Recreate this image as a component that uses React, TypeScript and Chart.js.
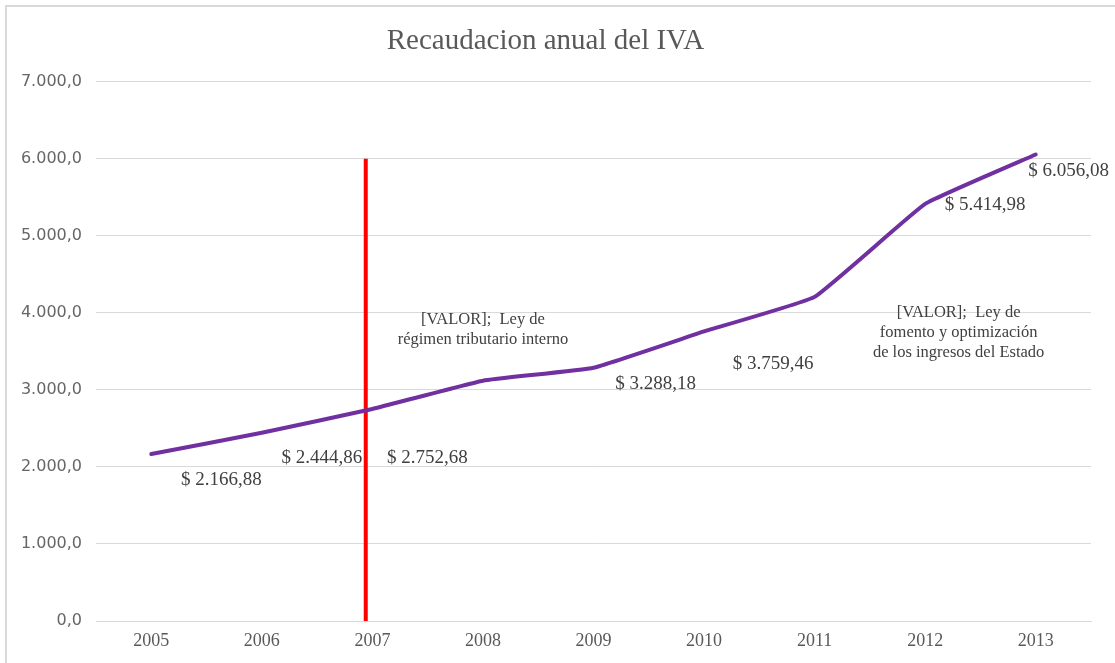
import React, { useEffect, useRef } from "react";
import { Chart, registerables } from "chart.js";

Chart.register(...registerables);

const years = ["2005", "2006", "2007", "2008", "2009", "2010", "2011", "2012", "2013"];
const ivaValues = [2166.88, 2444.86, 2752.68, 3120, 3288.18, 3759.46, 4208, 5414.98, 6056.08];
const pointLabels: string[][] = [
  ["$ 2.166,88"],
  ["$ 2.444,86"],
  ["$ 2.752,68"],
  ["[VALOR];  Ley de", "régimen tributario interno"],
  ["$ 3.288,18"],
  ["$ 3.759,46"],
  ["[VALOR];  Ley de", "fomento y optimización", "de los ingresos del Estado"],
  ["$ 5.414,98"],
  ["$ 6.056,08"],
];
const titleText = "Recaudacion anual del IVA";
const yMin = 0;
const yMax = 7000;
const yStep = 1000;
// reform marker (vertical red line), in category index units and value range
const markerIndex = 1.94;
const markerTop = 6000;
const markerBottom = 0;

// label placement offsets (px) relative to each point
const labelOffsets: [number, number][] = [
  [70, 26],
  [60, 25],
  [55, 49],
  [0, -61],
  [62, 16],
  [69, 33],
  [144, 16],
  [60, 1],
  [33, 17],
];

const SERIF = "'Liberation Serif', 'DejaVu Serif', serif";
const SANS = "'DejaVu Sans', sans-serif";

function formatEs(v: number): string {
  const fixed = v.toFixed(1);
  const [int, dec] = fixed.split(".");
  const grouped = int.replace(/\B(?=(\d{3})+(?!\d))/g, ".");
  return grouped + "," + dec;
}

const markerPlugin = {
  id: "markerLine",
  beforeDatasetsDraw(chart: any) {
    const { ctx, scales } = chart;
    const x = scales.x.getPixelForValue(markerIndex);
    const y1 = scales.y.getPixelForValue(markerTop);
    const y2 = scales.y.getPixelForValue(markerBottom);
    ctx.save();
    ctx.strokeStyle = "#FF0000";
    ctx.lineWidth = 4;
    ctx.beginPath();
    ctx.moveTo(x, y1);
    ctx.lineTo(x, y2);
    ctx.stroke();
    ctx.restore();
  },
};

const labelPlugin = {
  id: "pointLabels",
  afterDatasetsDraw(chart: any) {
    const { ctx } = chart;
    const meta = chart.getDatasetMeta(0);
    ctx.save();
    ctx.fillStyle = "#404040";
    ctx.textAlign = "center";
    ctx.textBaseline = "middle";
    meta.data.forEach((pt: any, i: number) => {
      const lines = pointLabels[i];
      const [dx, dy] = labelOffsets[i];
      ctx.font = lines.length > 1 ? `16.5px ${SERIF}` : `19px ${SERIF}`;
      lines.forEach((line, j) => {
        ctx.fillText(line, pt.x + dx, pt.y + dy + j * 20);
      });
    });
    ctx.restore();
  },
};

export default function App() {
  const canvasRef = useRef<HTMLCanvasElement>(null);

  useEffect(() => {
    if (!canvasRef.current) return;
    const chart = new Chart(canvasRef.current, {
      type: "line",
      data: {
        labels: years,
        datasets: [
          {
            label: "IVA",
            data: ivaValues,
            borderColor: "#7030A0",
            borderWidth: 4,
            pointRadius: 0,
            tension: 0.1,
            borderCapStyle: "round",
            fill: false,
          },
        ],
      },
      options: {
        responsive: false,
        animation: false,
        layout: { padding: { top: 0, right: 24, bottom: 0, left: 0 } },
        plugins: {
          legend: { display: false },
          tooltip: { enabled: false },
          title: {
            display: true,
            text: titleText,
            color: "#595959",
            font: { family: SERIF, size: 29, weight: "normal" },
            padding: { top: 24, bottom: 23 },
          },
        },
        scales: {
          x: {
            offset: true,
            grid: { display: false, drawTicks: false },
            border: { display: true, color: "#d9d9d9", width: 1 },
            ticks: {
              color: "#595959",
              font: { family: SERIF, size: 18 },
              padding: 9,
              maxRotation: 0,
            },
            afterFit(s: any) {
              s.height = 42;
            },
          },
          y: {
            min: yMin,
            max: yMax,
            grid: { color: "#d9d9d9", drawTicks: false, lineWidth: 1 },
            border: { display: false },
            ticks: {
              stepSize: yStep,
              color: "#666666",
              font: { family: SANS, size: 16 },
              padding: 14,
              callback: (v: any) => formatEs(Number(v)),
            },
            afterFit(s: any) {
              s.width = 96;
            },
          },
        },
      },
      plugins: [markerPlugin, labelPlugin],
    });
    return () => chart.destroy();
  }, []);

  return (
    <div
      style={{
        position: "fixed",
        left: 0,
        top: 0,
        width: 1115,
        height: 663,
        background: "#ffffff",
        overflow: "hidden",
      }}
    >
      <div
        style={{
          position: "absolute",
          left: 5,
          top: 5,
          width: 1115,
          height: 663,
          borderTop: "2px solid #d9d9d9",
          borderLeft: "2px solid #d9d9d9",
        }}
      />
      <canvas
        ref={canvasRef}
        width={1115}
        height={663}
        style={{ position: "absolute", left: 0, top: 0, width: 1115, height: 663 }}
      />
    </div>
  );
}
